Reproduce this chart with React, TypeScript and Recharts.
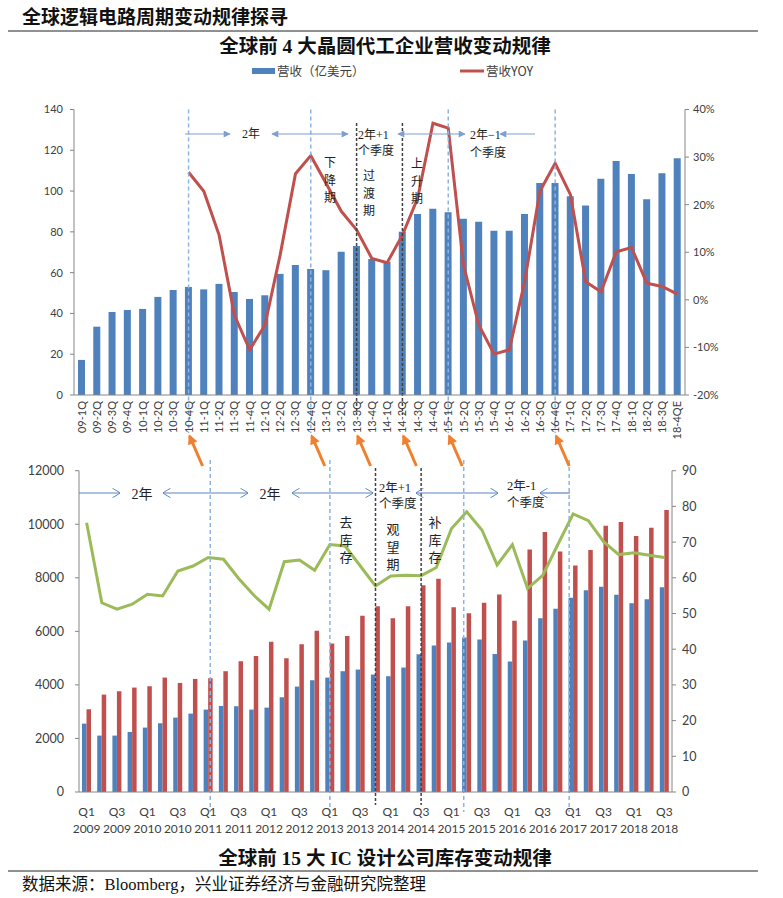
import React from 'react';
import { ComposedChart, Bar, Line, XAxis, YAxis, ReferenceLine } from 'recharts';

// 上图：全球前4大晶圆代工企业营收（亿美元）与同比
const TOP_QUARTERS = [
  '09-1Q', '09-2Q', '09-3Q', '09-4Q', '10-1Q', '10-2Q', '10-3Q', '10-4Q',
  '11-1Q', '11-2Q', '11-3Q', '11-4Q', '12-1Q', '12-2Q', '12-3Q', '12-4Q',
  '13-1Q', '13-2Q', '13-3Q', '13-4Q', '14-1Q', '14-2Q', '14-3Q', '14-4Q',
  '15-1Q', '15-2Q', '15-3Q', '15-4Q', '16-1Q', '16-2Q', '16-3Q', '16-4Q',
  '17-1Q', '17-2Q', '17-3Q', '17-4Q', '18-1Q', '18-2Q', '18-3Q', '18-4QE',
];
const TOP_REVENUE = [
  17.2, 33.5, 40.7, 41.7, 42.2, 48.1, 51.5, 53.0,
  51.8, 54.5, 50.5, 47.1, 48.9, 59.4, 63.8, 61.8,
  61.2, 70.2, 73.1, 66.7, 65.4, 80.1, 88.8, 91.3,
  89.6, 86.4, 84.9, 80.5, 80.5, 88.8, 104.0, 104.0,
  97.5, 92.9, 106.0, 114.7, 108.4, 96.0, 108.8, 116.1,
];
const TOP_YOY = [
  null, null, null, null, null, null, null, 26.8,
  22.8, 13.6, -3.2, -10.5, -5.3, 9.5, 26.5, 30.3,
  24.5, 18.6, 14.7, 8.7, 7.8, 13.6, 21.4, 37.1,
  36.1, 7.3, -5.3, -11.4, -10.5, 3.8, 22.8, 28.7,
  22.1, 3.8, 1.7, 10.1, 11.0, 3.5, 2.8, 1.2,
];

// 下图：全球前15大IC设计公司库存
const BOTTOM_QUARTERS = [
  'Q1 2009', 'Q2 2009', 'Q3 2009', 'Q4 2009', 'Q1 2010', 'Q2 2010', 'Q3 2010', 'Q4 2010',
  'Q1 2011', 'Q2 2011', 'Q3 2011', 'Q4 2011', 'Q1 2012', 'Q2 2012', 'Q3 2012', 'Q4 2012',
  'Q1 2013', 'Q2 2013', 'Q3 2013', 'Q4 2013', 'Q1 2014', 'Q2 2014', 'Q3 2014', 'Q4 2014',
  'Q1 2015', 'Q2 2015', 'Q3 2015', 'Q4 2015', 'Q1 2016', 'Q2 2016', 'Q3 2016', 'Q4 2016',
  'Q1 2017', 'Q2 2017', 'Q3 2017', 'Q4 2017', 'Q1 2018', 'Q2 2018', 'Q3 2018',
];
const BOTTOM_INVENTORY = [
  2554, 2106, 2106, 2243, 2405, 2567, 2779, 2928,
  3078, 3215, 3202, 3078, 3152, 3539, 3937, 4174,
  4274, 4511, 4573, 4386, 4324, 4648, 5146, 5470,
  5582, 5769, 5694, 5158, 4872, 5657, 6492, 6841,
  7252, 7538, 7663, 7364, 7052, 7202, 7650,
];
const BOTTOM_REVENUE = [
  3090, 3638, 3763, 3900, 3950, 4274, 4074, 4224,
  4249, 4511, 4884, 5084, 5607, 4996, 5520, 6018,
  5545, 5831, 6579, 6940, 6492, 6940, 7725, 7962,
  6903, 6679, 7065, 7376, 6392, 9058, 9706, 8984,
  8460, 9034, 9943, 10080, 9557, 9868, 10529,
];
const BOTTOM_DAYS = [
  75.4, 53.0, 51.2, 52.6, 55.4, 54.9, 61.9, 63.3,
  65.7, 65.2, 59.8, 55.1, 51.2, 64.5, 65.0, 62.1,
  69.3, 68.9, 63.3, 57.7, 60.5, 60.7, 60.6, 62.9,
  73.8, 78.5, 73.4, 63.6, 69.3, 57.0, 60.7, 69.4,
  77.9, 76.0, 70.1, 66.5, 67.0, 66.3, 65.7,
];

const TOP_LEFT_TICKS = [0, 20, 40, 60, 80, 100, 120, 140];
const TOP_RIGHT_TICKS = [-20, -10, 0, 10, 20, 30, 40];
const BOTTOM_LEFT_TICKS = [0, 2000, 4000, 6000, 8000, 10000, 12000];
const BOTTOM_RIGHT_TICKS = [0, 10, 20, 30, 40, 50, 60, 70, 80, 90];

// 周期标注
const TOP_CYCLE_MARKS = ['10-4Q', '12-4Q', '15-1Q', '16-4Q'];
const TOP_PHASE_MARKS = ['13-3Q', '14-2Q'];
const BOTTOM_CYCLE_MARKS = ['Q1 2011', 'Q1 2013', 'Q2 2015', 'Q1 2017'];
const BOTTOM_CYCLE_SHIFT = [2, 0, -3, -4];
const BOTTOM_PHASE_MARKS = ['Q4 2013', 'Q3 2014'];
const ORANGE_LINKS = ['10-4Q', '12-4Q', '13-3Q', '14-2Q', '15-1Q', '16-4Q'];

const W = 783;
const H = 898;
const TOP = { y: 90, h: 365, left: 74, right: 685, top: 109.5, bottom: 395 };
const BOT = { y: 450, h: 390, left: 79, right: 672, top: 470.7, bottom: 792 };

const SERIF = "'Liberation Serif', 'Noto Sans CJK SC', serif";
const SANS = "Lato, 'Noto Sans CJK SC', sans-serif";
const CJK = "'Noto Sans CJK SC', sans-serif";
const AXIS = '#868686';
const LABEL = '#404040';
const GUIDE_BLUE = '#8DB4E2';
const GUIDE_DARK = '#404040';

const topX = (i: number) => TOP.left + ((TOP.right - TOP.left) / TOP_QUARTERS.length) * (i + 0.5);

const topData = TOP_QUARTERS.map((q, i) => ({ q, revenue: TOP_REVENUE[i], yoy: TOP_YOY[i] }));
const bottomData = BOTTOM_QUARTERS.map((q, i) => ({
  q,
  inventory: BOTTOM_INVENTORY[i],
  revenue: BOTTOM_REVENUE[i],
  days: BOTTOM_DAYS[i],
}));

const TOP_EDGES = TOP_QUARTERS.map((_, i) => i).concat([TOP_QUARTERS.length]);
const BOTTOM_EDGES = BOTTOM_QUARTERS.map((_, i) => i).concat([BOTTOM_QUARTERS.length]);

const guide = (color: string, dash: string, y1: number, y2: number, dx = 0) => (p: any) => (
  <line x1={p.x1 + dx} x2={p.x1 + dx} y1={y1} y2={y2} stroke={color} strokeWidth={1.5} strokeDasharray={dash} />
);

const TopTick = ({ x, y, payload }: any) => (
  <text
    x={x}
    y={y}
    dy={4}
    transform={`rotate(-90, ${x}, ${y})`}
    textAnchor="end"
    fontSize={11}
    fill={LABEL}
    fontFamily={SANS}
  >
    {payload.value}
  </text>
);

const BottomTick = ({ x, y, payload }: any) => {
  const [q, yr] = String(payload.value).split(' ');
  return (
    <text x={x} y={y} textAnchor="middle" fontSize={12} fill={LABEL} fontFamily={SANS}>
      <tspan x={x} dy={18}>{q}</tspan>
      <tspan x={x} dy={17}>{yr}</tspan>
    </text>
  );
};

const tickStyle = { fontSize: 11, fill: LABEL, fontFamily: SANS };

function TopChart() {
  return (
    <ComposedChart
      width={W}
      height={TOP.h}
      data={topData}
      margin={{ top: TOP.top - TOP.y, right: W - TOP.right - 50, bottom: 10, left: TOP.left - 60 }}
    >
      <XAxis
        xAxisId="edge"
        type="number"
        domain={[0, TOP_QUARTERS.length]}
        ticks={TOP_EDGES}
        interval={0}
        tick={false}
        axisLine={false}
        tickLine={{ stroke: AXIS }}
        tickSize={4}
        height={0}
      />
      <XAxis
        dataKey="q"
        interval={0}
        tick={<TopTick />}
        tickLine={false}
        tickSize={4}
        tickMargin={2}
        axisLine={{ stroke: AXIS }}
        height={50}
      />
      <YAxis
        yAxisId="left"
        domain={[0, 140]}
        ticks={TOP_LEFT_TICKS}
        width={60}
        tick={tickStyle}
        tickSize={4}
        tickMargin={7}
        axisLine={{ stroke: AXIS }}
        tickLine={{ stroke: AXIS }}
      />
      <YAxis
        yAxisId="right"
        orientation="right"
        domain={[-20, 40]}
        ticks={TOP_RIGHT_TICKS}
        width={50}
        tick={tickStyle}
        tickSize={4}
        tickMargin={4}
        tickFormatter={(v) => `${v}%`}
        axisLine={{ stroke: AXIS }}
        tickLine={{ stroke: AXIS }}
      />
      <Bar yAxisId="left" dataKey="revenue" name="营收（亿美元）" fill="#4F81BD" barSize={7} isAnimationActive={false} />
      <Line
        yAxisId="right"
        type="linear"
        dataKey="yoy"
        name="营收YOY"
        stroke="#C0504D"
        strokeWidth={3}
        dot={false}
        activeDot={false}
        isAnimationActive={false}
      />
      {TOP_CYCLE_MARKS.map((q) => (
        <ReferenceLine key={q} x={q} yAxisId="left" shape={guide(GUIDE_BLUE, '4 3', TOP.top - TOP.y, 343)} />
      ))}
      {TOP_PHASE_MARKS.map((q) => (
        <ReferenceLine key={q} x={q} yAxisId="left" shape={guide(GUIDE_DARK, '3 2', 33, 325)} />
      ))}
    </ComposedChart>
  );
}

function BottomChart() {
  return (
    <ComposedChart
      width={W}
      height={BOT.h}
      data={bottomData}
      barGap={0}
      margin={{ top: BOT.top - BOT.y, right: W - BOT.right - 50, bottom: 8, left: BOT.left - 60 }}
    >
      <XAxis
        xAxisId="edge"
        type="number"
        domain={[0, BOTTOM_QUARTERS.length]}
        ticks={BOTTOM_EDGES}
        interval={0}
        tick={false}
        axisLine={false}
        tickLine={{ stroke: AXIS }}
        tickSize={4}
        height={0}
      />
      <XAxis
        dataKey="q"
        interval={1}
        tick={<BottomTick />}
        tickLine={false}
        tickSize={4}
        tickMargin={2}
        axisLine={{ stroke: AXIS }}
        height={40}
      />
      <YAxis
        yAxisId="left"
        domain={[0, 12000]}
        ticks={BOTTOM_LEFT_TICKS}
        width={60}
        tick={{ ...tickStyle, fontSize: 12.5 }}
        tickSize={4}
        tickMargin={11}
        axisLine={{ stroke: AXIS }}
        tickLine={{ stroke: AXIS }}
      />
      <YAxis
        yAxisId="right"
        orientation="right"
        domain={[0, 90]}
        ticks={BOTTOM_RIGHT_TICKS}
        width={50}
        tick={{ ...tickStyle, fontSize: 12.5 }}
        tickSize={4}
        tickMargin={6}
        axisLine={{ stroke: AXIS }}
        tickLine={{ stroke: AXIS }}
      />
      <Bar yAxisId="left" dataKey="inventory" fill="#4F81BD" barSize={4.5} isAnimationActive={false} />
      <Bar yAxisId="left" dataKey="revenue" fill="#C0504D" barSize={4.5} isAnimationActive={false} />
      <Line
        yAxisId="right"
        type="linear"
        dataKey="days"
        stroke="#9BBB59"
        strokeWidth={3}
        dot={false}
        activeDot={false}
        isAnimationActive={false}
      />
      {BOTTOM_CYCLE_MARKS.map((q, i) => (
        <ReferenceLine key={q} x={q} yAxisId="left" shape={guide(GUIDE_BLUE, '4 3', 10, 362, BOTTOM_CYCLE_SHIFT[i])} />
      ))}
      {BOTTOM_PHASE_MARKS.map((q) => (
        <ReferenceLine key={q} x={q} yAxisId="left" shape={guide(GUIDE_DARK, '3 2', 18, 355)} />
      ))}
    </ComposedChart>
  );
}

// 区间箭头：[起点, 终点, 起点箭头, 终点箭头]
const TOP_SPANS: [number, number, boolean, boolean][] = [
  [185, 230, false, true],
  [272, 348, true, true],
  [398, 465, true, true],
  [500, 535, true, false],
];
const BOTTOM_SPANS: [number, number, boolean, boolean][] = [
  [79, 120, false, true],
  [163, 248, true, true],
  [292, 373, true, true],
  [416, 498, true, true],
  [540, 570, true, false],
];

const VText = ({ x, y, text, size = 12 }: { x: number; y: number; text: string; size?: number }) => (
  <text x={x} y={y} textAnchor="middle" fontSize={size} fontFamily={CJK} fill="#222">
    {text.split('').map((c, i) => (
      <tspan key={i} x={x} dy={i === 0 ? 0 : 17.5}>
        {c}
      </tspan>
    ))}
  </text>
);

function Overlay() {
  return (
    <svg width={W} height={H} style={{ position: 'absolute', left: 0, top: 0, pointerEvents: 'none' }}>
      <defs>
        <marker id="tEnd" viewBox="0 0 10 10" refX="9" refY="5" markerWidth="8" markerHeight="7" markerUnits="userSpaceOnUse" orient="auto">
          <path d="M0,0 L10,5 L0,10 z" fill="#7F9FD0" />
        </marker>
        <marker id="tStart" viewBox="0 0 10 10" refX="1" refY="5" markerWidth="8" markerHeight="7" markerUnits="userSpaceOnUse" orient="auto">
          <path d="M10,0 L0,5 L10,10 z" fill="#7F9FD0" />
        </marker>
        <marker id="bEnd" viewBox="0 0 10 12" refX="9.5" refY="6" markerWidth="8" markerHeight="10" markerUnits="userSpaceOnUse" orient="auto">
          <path d="M0,0 L10,6 L0,12" fill="none" stroke="#5A86C0" strokeWidth="1.2" />
        </marker>
        <marker id="bStart" viewBox="0 0 10 12" refX="0.5" refY="6" markerWidth="8" markerHeight="10" markerUnits="userSpaceOnUse" orient="auto">
          <path d="M10,0 L0,6 L10,12" fill="none" stroke="#5A86C0" strokeWidth="1.2" />
        </marker>
        <marker id="oEnd" viewBox="0 0 10 10" refX="8" refY="5" markerWidth="11" markerHeight="10" markerUnits="userSpaceOnUse" orient="auto">
          <path d="M0,0 L10,5 L0,10 z" fill="#F07F2E" />
        </marker>
      </defs>

      {/* 页眉 */}
      <text x={22} y={24} fontSize={19} fontWeight={700} fontFamily={CJK} fill="#111">
        全球逻辑电路周期变动规律探寻
      </text>
      <line x1={8} x2={758} y1={31} y2={31} stroke="#222" strokeWidth={1} />
      <text x={385} y={53} textAnchor="middle" fontSize={19.5} fontWeight={700} fontFamily={SERIF} fill="#111">
        全球前 4 大晶圆代工企业营收变动规律
      </text>

      {/* 图例 */}
      <rect x={252} y={68} width={23} height={6} fill="#4F81BD" />
      <text x={277} y={75.5} fontSize={12.5} fontFamily={CJK} fill={LABEL}>
        营收（亿美元）
      </text>
      <line x1={460} x2={484} y1={71} y2={71} stroke="#C0504D" strokeWidth={3} />
      <text x={486} y={75.5} fontSize={12.5} fontFamily={CJK} fill={LABEL}>
        营收YOY
      </text>

      {/* 上图区间箭头 */}
      {TOP_SPANS.map(([a, b, s, e], i) => (
        <line
          key={i}
          x1={a}
          x2={b}
          y1={134}
          y2={134}
          stroke="#7F9FD0"
          strokeWidth={1.2}
          markerStart={s ? 'url(#tStart)' : undefined}
          markerEnd={e ? 'url(#tEnd)' : undefined}
        />
      ))}
      <g fontFamily={SERIF} fontSize={12} fill="#222">
        <text x={251} y={138} textAnchor="middle">2年</text>
        <text x={358} y={139}>2年+1</text>
        <text x={358} y={155}>个季度</text>
        <text x={470} y={139}>2年−1</text>
        <text x={470} y={157}>个季度</text>
      </g>
      <VText x={330} y={167} text="下降期" />
      <VText x={369} y={180} text="过渡期" />
      <VText x={417} y={168} text="上升期" />

      {/* 连接箭头 */}
      {ORANGE_LINKS.map((q) => {
        const hx = topX(TOP_QUARTERS.indexOf(q)) + 1;
        return (
          <line key={q} x1={hx + 13} y1={466} x2={hx} y2={436} stroke="#F07F2E" strokeWidth={3} markerEnd="url(#oEnd)" />
        );
      })}

      {/* 下图区间箭头 */}
      {BOTTOM_SPANS.map(([a, b, s, e], i) => (
        <line
          key={i}
          x1={a}
          x2={b}
          y1={493}
          y2={493}
          stroke="#5A86C0"
          strokeWidth={1.2}
          markerStart={s ? 'url(#bStart)' : undefined}
          markerEnd={e ? 'url(#bEnd)' : undefined}
        />
      ))}
      <g fontFamily={SERIF} fill="#222">
        <text x={142} y={499} textAnchor="middle" fontSize={14}>2年</text>
        <text x={270} y={499} textAnchor="middle" fontSize={14}>2年</text>
        <text x={379} y={492} fontSize={12.5}>2年+1</text>
        <text x={379} y={508} fontSize={12.5}>个季度</text>
        <text x={507} y={490} fontSize={12.5}>2年-1</text>
        <text x={507} y={507} fontSize={12.5}>个季度</text>
      </g>
      <VText x={346} y={527} text="去库存" size={13} />
      <VText x={393} y={534} text="观望期" size={13} />
      <VText x={435} y={527} text="补库存" size={13} />

      {/* 页脚 */}
      <text x={385} y={865} textAnchor="middle" fontSize={19.5} fontWeight={700} fontFamily={SERIF} fill="#111">
        全球前 15 大 IC 设计公司库存变动规律
      </text>
      <line x1={8} x2={758} y1={871} y2={871} stroke="#222" strokeWidth={1} />
      <text x={22} y={890} fontSize={16.5} fontFamily={SERIF} fill="#111">
        数据来源：Bloomberg，兴业证券经济与金融研究院整理
      </text>
    </svg>
  );
}

export default function App() {
  return (
    <div style={{ position: 'absolute', left: 0, top: 0, width: W, height: H, background: '#fff', overflow: 'hidden' }}>
      <div style={{ position: 'absolute', left: 0, top: TOP.y }}>
        <TopChart />
      </div>
      <div style={{ position: 'absolute', left: 0, top: BOT.y }}>
        <BottomChart />
      </div>
      <Overlay />
    </div>
  );
}
